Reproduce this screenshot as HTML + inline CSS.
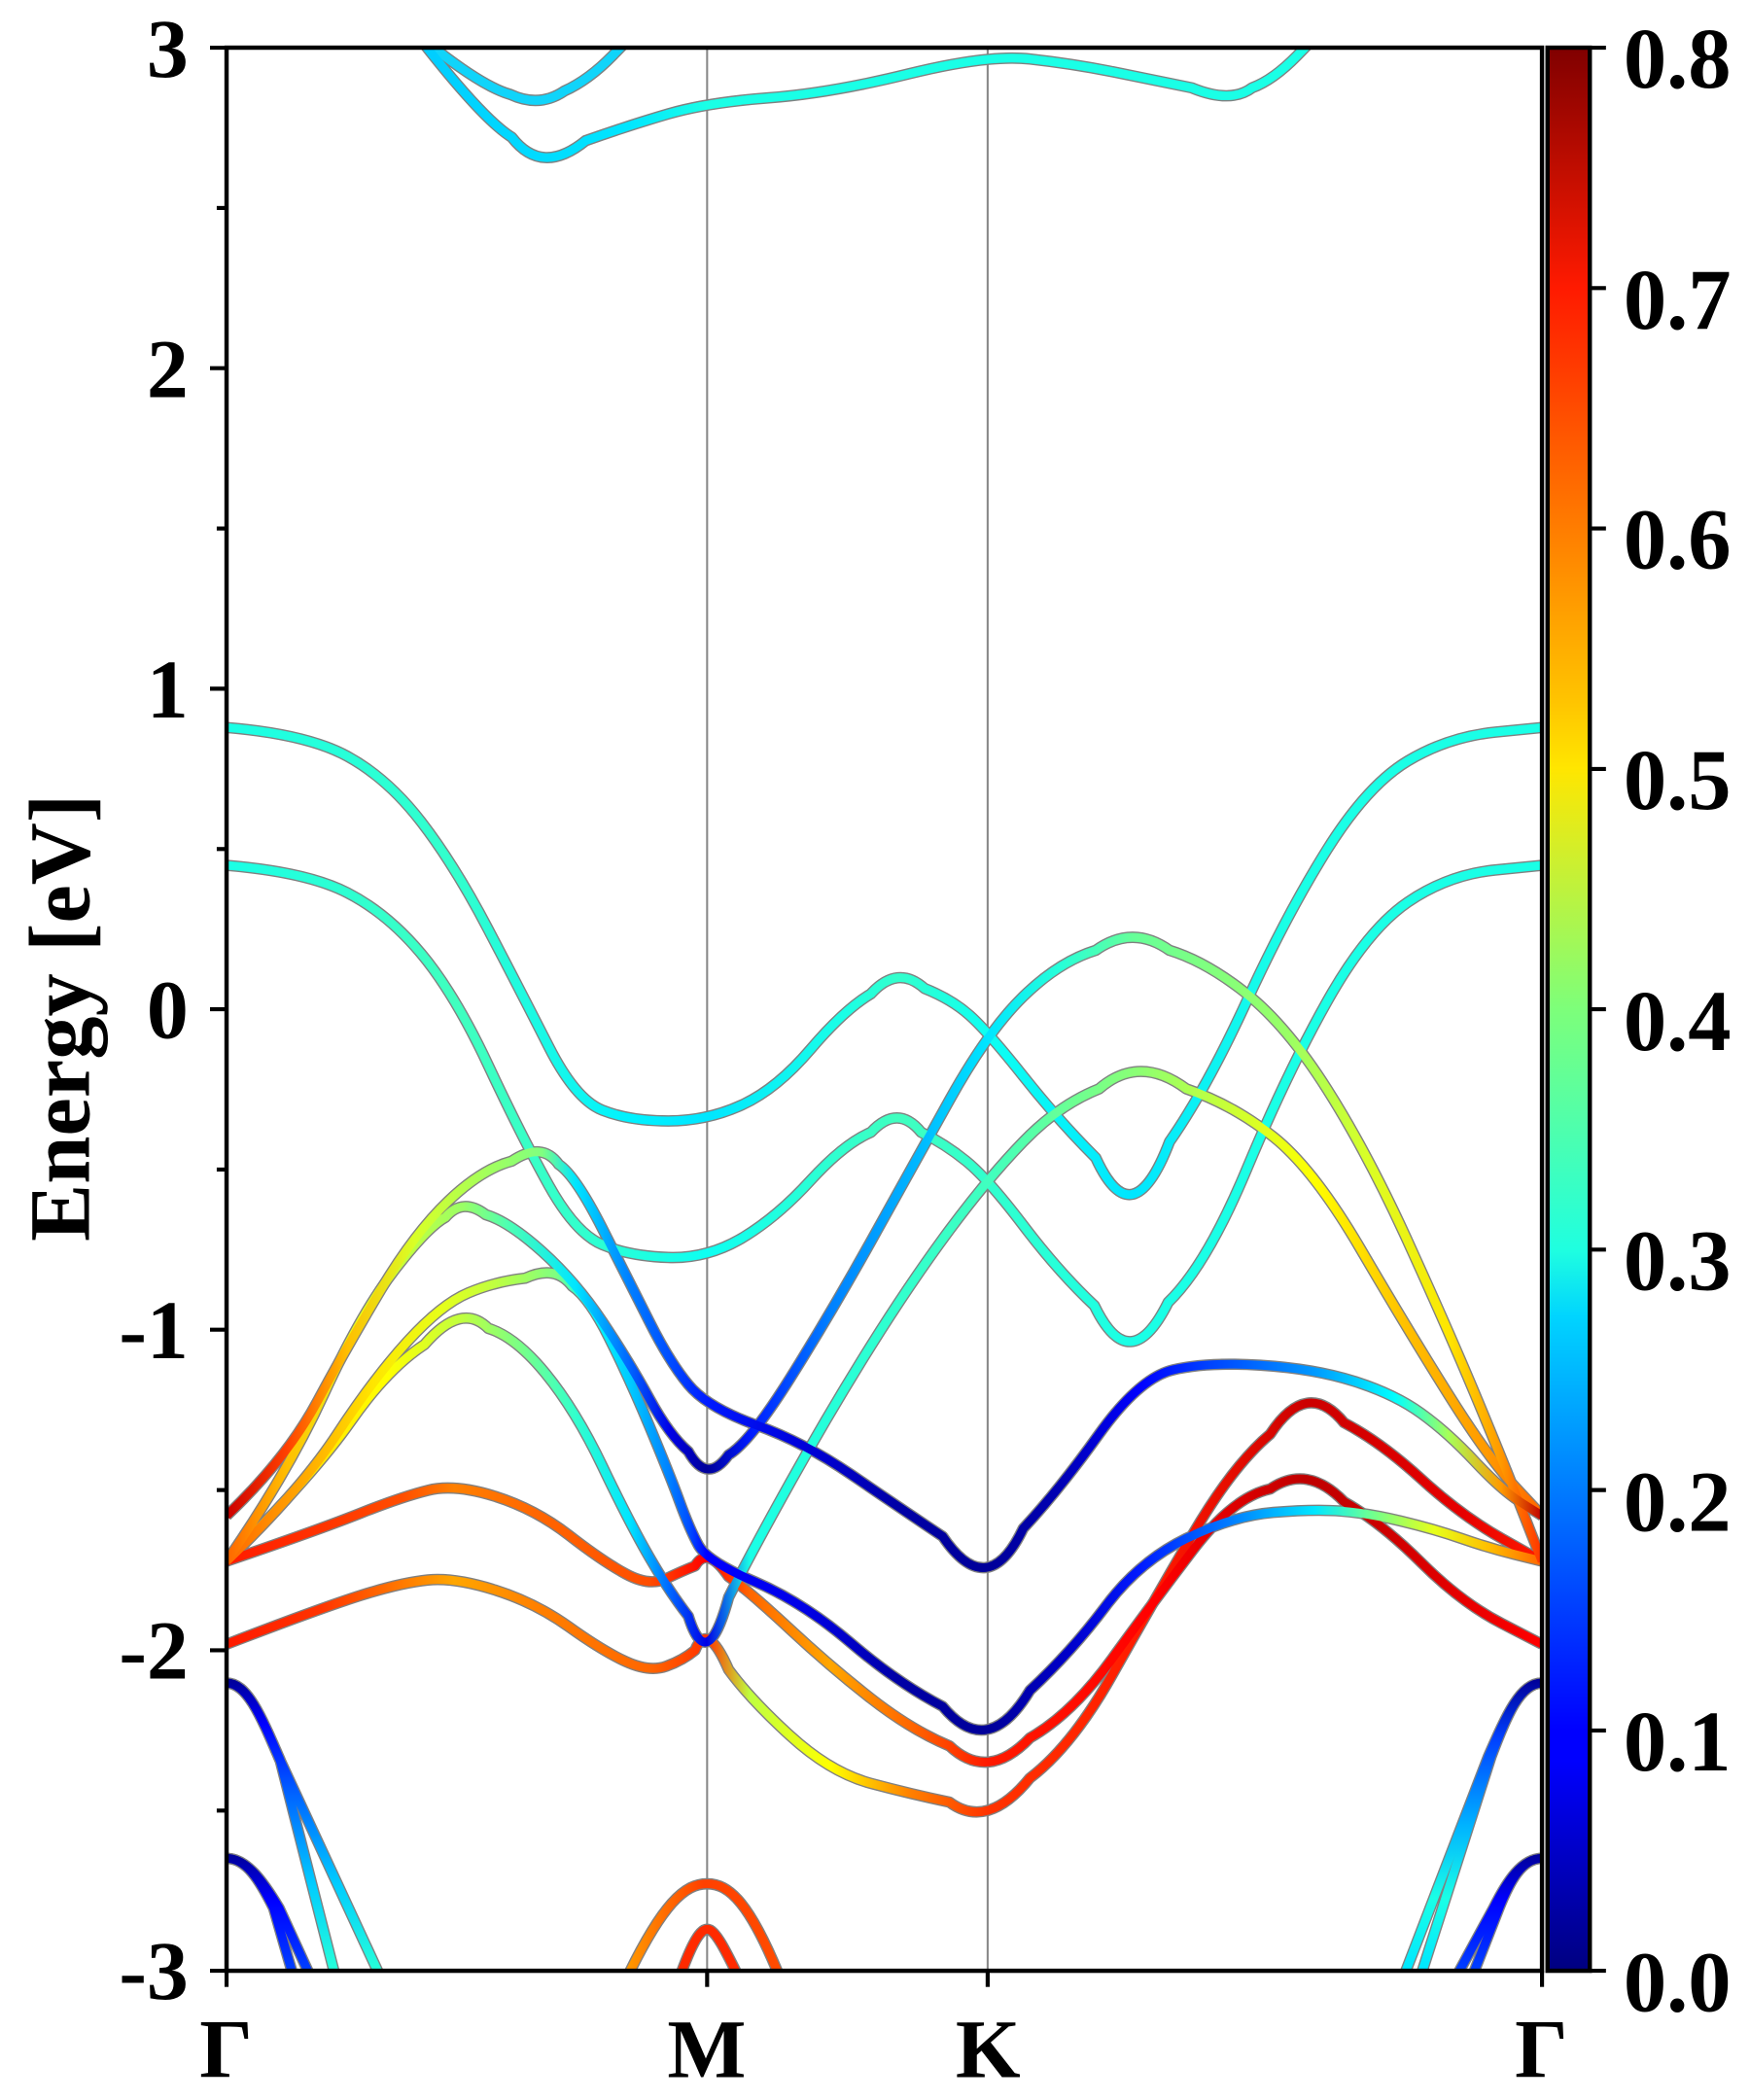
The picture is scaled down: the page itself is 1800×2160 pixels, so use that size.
<!DOCTYPE html>
<html><head><meta charset="utf-8">
<style>html,body{margin:0;padding:0;background:#fff;}svg{display:block;}</style>
</head><body>
<svg xmlns="http://www.w3.org/2000/svg" xmlns:xlink="http://www.w3.org/1999/xlink" width="1800" height="2160" viewBox="0 0 1300 1560">
<defs>
<clipPath id="cp"><rect x="170" y="35" width="980" height="1437"/></clipPath>
<linearGradient id="jet" x1="0" y1="1" x2="0" y2="0">
<stop offset="0" stop-color="#000080"/><stop offset="0.11" stop-color="#0000ff"/><stop offset="0.125" stop-color="#0000ff"/>
<stop offset="0.34" stop-color="#00d4ff"/><stop offset="0.375" stop-color="#1fffe0"/><stop offset="0.5" stop-color="#7dff7a"/>
<stop offset="0.625" stop-color="#ffe600"/><stop offset="0.66" stop-color="#ffc400"/><stop offset="0.875" stop-color="#ff1a00"/><stop offset="1" stop-color="#800000"/>
</linearGradient>
<linearGradient id="gA" gradientUnits="userSpaceOnUse" x1="170" y1="0" x2="1150" y2="0">
<stop offset="0" stop-color="#cc0000"/><stop offset=".046" stop-color="#ff4000"/><stop offset=".092" stop-color="#ffbf00"/><stop offset=".143" stop-color="#d9ff26"/><stop offset=".194" stop-color="#a6ff59"/><stop offset=".24" stop-color="#80ff80"/><stop offset=".265" stop-color="#00e6ff"/><stop offset=".306" stop-color="#0080ff"/><stop offset=".337" stop-color="#004cff"/><stop offset=".365" stop-color="#001aff"/><stop offset=".439" stop-color="#0000d9"/><stop offset=".51" stop-color="#0000a6"/><stop offset=".579" stop-color="#000099"/><stop offset=".633" stop-color="#0000b3"/><stop offset=".694" stop-color="#0000ff"/><stop offset=".745" stop-color="#0040ff"/><stop offset=".827" stop-color="#0099ff"/><stop offset=".888" stop-color="#00ffff"/><stop offset=".929" stop-color="#a6ff59"/><stop offset=".969" stop-color="#ff9900"/><stop offset="1" stop-color="#bf0000"/>
</linearGradient>
<linearGradient id="gB" gradientUnits="userSpaceOnUse" x1="170" y1="0" x2="1150" y2="0">
<stop offset="0" stop-color="#ff6600"/><stop offset=".046" stop-color="#ffbf00"/><stop offset=".102" stop-color="#e6ff1a"/><stop offset=".153" stop-color="#b3ff4d"/><stop offset=".18" stop-color="#99ff66"/><stop offset=".214" stop-color="#4dffb3"/><stop offset=".265" stop-color="#00e6ff"/><stop offset=".306" stop-color="#0066ff"/><stop offset=".337" stop-color="#0000e6"/><stop offset=".365" stop-color="#000099"/><stop offset=".398" stop-color="#001aff"/><stop offset=".459" stop-color="#0080ff"/><stop offset=".52" stop-color="#00b3ff"/><stop offset=".579" stop-color="#00e6ff"/><stop offset=".633" stop-color="#26ffd9"/><stop offset=".689" stop-color="#66ff99"/><stop offset=".745" stop-color="#80ff80"/><stop offset=".806" stop-color="#99ff66"/><stop offset=".867" stop-color="#d9ff26"/><stop offset=".929" stop-color="#ffe600"/><stop offset=".969" stop-color="#ff9900"/><stop offset="1" stop-color="#ff3300"/>
</linearGradient>
<linearGradient id="gC" gradientUnits="userSpaceOnUse" x1="170" y1="0" x2="1150" y2="0">
<stop offset="0" stop-color="#ff6600"/><stop offset=".056" stop-color="#ffa600"/><stop offset=".112" stop-color="#ffe600"/><stop offset=".163" stop-color="#e6ff1a"/><stop offset=".204" stop-color="#bfff40"/><stop offset=".25" stop-color="#80ff80"/><stop offset=".276" stop-color="#00ffff"/><stop offset=".306" stop-color="#00ccff"/><stop offset=".337" stop-color="#0080ff"/><stop offset=".352" stop-color="#004cff"/><stop offset=".365" stop-color="#0000ff"/><stop offset=".439" stop-color="#0000e6"/><stop offset=".51" stop-color="#0000a6"/><stop offset=".579" stop-color="#000099"/><stop offset=".643" stop-color="#0000cc"/><stop offset=".694" stop-color="#001aff"/><stop offset=".765" stop-color="#0080ff"/><stop offset=".827" stop-color="#00e6ff"/><stop offset=".867" stop-color="#66ff99"/><stop offset=".918" stop-color="#e6ff1a"/><stop offset=".959" stop-color="#ffbf00"/><stop offset="1" stop-color="#ff6600"/>
</linearGradient>
<linearGradient id="gD" gradientUnits="userSpaceOnUse" x1="170" y1="0" x2="1150" y2="0">
<stop offset="0" stop-color="#ff8000"/><stop offset=".066" stop-color="#ffe600"/><stop offset=".122" stop-color="#ffff00"/><stop offset=".179" stop-color="#bfff40"/><stop offset=".219" stop-color="#80ff80"/><stop offset=".265" stop-color="#33ffcc"/><stop offset=".306" stop-color="#00e6ff"/><stop offset=".337" stop-color="#0066ff"/><stop offset=".365" stop-color="#0000e6"/><stop offset=".398" stop-color="#1affe6"/><stop offset=".459" stop-color="#26ffd9"/><stop offset=".52" stop-color="#33ffcc"/><stop offset=".579" stop-color="#40ffbf"/><stop offset=".633" stop-color="#66ff99"/><stop offset=".694" stop-color="#8cff73"/><stop offset=".765" stop-color="#ccff33"/><stop offset=".827" stop-color="#ffff00"/><stop offset=".898" stop-color="#ffbf00"/><stop offset=".959" stop-color="#ff9900"/><stop offset="1" stop-color="#ff6600"/>
</linearGradient>
<linearGradient id="gE" gradientUnits="userSpaceOnUse" x1="170" y1="0" x2="1150" y2="0">
<stop offset="0" stop-color="#ff1a00"/><stop offset=".071" stop-color="#ff3300"/><stop offset=".133" stop-color="#ff4d00"/><stop offset=".173" stop-color="#ff8000"/><stop offset=".235" stop-color="#ff6600"/><stop offset=".321" stop-color="#ff4d00"/><stop offset=".365" stop-color="#ff0000"/><stop offset=".398" stop-color="#ff6600"/><stop offset=".459" stop-color="#ffa600"/><stop offset=".52" stop-color="#ff6600"/><stop offset=".579" stop-color="#ff1a00"/><stop offset=".704" stop-color="#ff0000"/><stop offset=".821" stop-color="#bf0000"/><stop offset=".878" stop-color="#cc0000"/><stop offset=".939" stop-color="#e60000"/><stop offset="1" stop-color="#ff0000"/>
</linearGradient>
<linearGradient id="gF" gradientUnits="userSpaceOnUse" x1="170" y1="0" x2="1150" y2="0">
<stop offset="0" stop-color="#ff1a00"/><stop offset=".071" stop-color="#ff3300"/><stop offset=".173" stop-color="#ffa600"/><stop offset=".235" stop-color="#ff8000"/><stop offset=".321" stop-color="#ff6600"/><stop offset=".365" stop-color="#ff3300"/><stop offset=".398" stop-color="#bfff40"/><stop offset=".459" stop-color="#ffff00"/><stop offset=".52" stop-color="#ff8000"/><stop offset=".579" stop-color="#ff3300"/><stop offset=".704" stop-color="#ff1a00"/><stop offset=".821" stop-color="#cc0000"/><stop offset=".939" stop-color="#e60000"/><stop offset="1" stop-color="#ff1a00"/>
</linearGradient>
<linearGradient id="g1" gradientUnits="userSpaceOnUse" x1="170" y1="0" x2="1150" y2="0">
<stop offset="0" stop-color="#1affe6"/><stop offset=".173" stop-color="#33ffcc"/><stop offset=".306" stop-color="#00f2ff"/><stop offset=".365" stop-color="#00e6ff"/><stop offset=".469" stop-color="#1affe6"/><stop offset=".51" stop-color="#33ffcc"/><stop offset=".579" stop-color="#0dfff2"/><stop offset=".689" stop-color="#00e6ff"/><stop offset=".806" stop-color="#1affe6"/><stop offset="1" stop-color="#1affe6"/>
</linearGradient>
<linearGradient id="g2" gradientUnits="userSpaceOnUse" x1="170" y1="0" x2="1150" y2="0">
<stop offset="0" stop-color="#1affe6"/><stop offset=".173" stop-color="#40ffbf"/><stop offset=".265" stop-color="#33ffcc"/><stop offset=".365" stop-color="#0dfff2"/><stop offset=".51" stop-color="#40ffbf"/><stop offset=".689" stop-color="#1affe6"/><stop offset="1" stop-color="#1affe6"/>
</linearGradient>
<linearGradient id="gT" gradientUnits="userSpaceOnUse" x1="170" y1="0" x2="1150" y2="0">
<stop offset=".143" stop-color="#00ccff"/><stop offset=".306" stop-color="#00e6ff"/><stop offset=".365" stop-color="#1affe6"/><stop offset="1" stop-color="#1affe6"/>
</linearGradient>
<linearGradient id="gL1" gradientUnits="userSpaceOnUse" x1="0" y1="1255" x2="0" y2="1472">
<stop offset="0" stop-color="#000099"/><stop offset=".15" stop-color="#0000ff"/><stop offset=".4" stop-color="#0066ff"/><stop offset=".7" stop-color="#00ccff"/><stop offset="1" stop-color="#26ffd9"/>
</linearGradient>
<linearGradient id="gL3" gradientUnits="userSpaceOnUse" x1="0" y1="1385" x2="0" y2="1472">
<stop offset="0" stop-color="#000099"/><stop offset=".4" stop-color="#0000ff"/><stop offset="1" stop-color="#0040ff"/>
</linearGradient>
<linearGradient id="gR1" gradientUnits="userSpaceOnUse" x1="0" y1="1255" x2="0" y2="1472">
<stop offset="0" stop-color="#000099"/><stop offset=".2" stop-color="#0040ff"/><stop offset=".5" stop-color="#00b3ff"/><stop offset=".75" stop-color="#1affe6"/><stop offset="1" stop-color="#00e6ff"/>
</linearGradient>
<linearGradient id="gM" gradientUnits="userSpaceOnUse" x1="460" y1="0" x2="590" y2="0">
<stop offset="0" stop-color="#ffa600"/><stop offset=".5" stop-color="#ff4000"/><stop offset="1" stop-color="#ff4d00"/>
</linearGradient>

<path id="pT1" d="M318,30 Q360,64 381.5,70 Q403,80 421.5,67.5 Q440,59 457.5,41 L475,23"/>
<path id="pT2" d="M310,23 Q360,88 382.5,102 Q405,131 437.5,104.5 Q470,93 499,84.5 Q528,76 574,72.5 Q620,69 678.5,54.5 Q737,40 768.5,43.5 Q800,47 830,53 Q860,59 889,65 Q918,77 934,65 Q950,59 967.5,41 L985,23"/>
<path id="pB1" d="M170,543 Q230,548 260,564.5 Q290,581 315,613.5 Q340,646 365,694 Q390,742 410,781.5 Q430,821 450,829 Q470,837 499,837 Q528,837 554,825 Q580,813 605,783.5 Q630,754 650,742 Q670,720 690,738 Q710,746 723.5,758 Q737,770 763.5,803.5 Q790,837 817.5,864.5 Q845,925 872.5,852.5 Q900,813 930,747.5 Q960,682 990,634 Q1020,586 1050,568 Q1080,550 1115,546.5 L1150,543"/>
<path id="pB2" d="M170,646 Q230,651 260,666.5 Q290,682 315,712 Q340,742 365,795.5 Q390,849 410,885 Q430,921 450,929.5 Q470,938 499,939 Q528,940 554,924.5 Q580,909 605,881.5 Q630,854 650,845.5 Q670,824 687.5,845.5 Q705,854 721,867 Q737,880 763.5,915 Q790,950 816.5,975 Q843,1030 871.5,972.5 Q900,945 930,873 Q960,801 990,747.5 Q1020,694 1050,673.5 Q1080,653 1115,649.5 L1150,646"/>
<path id="pF" d="M170,1228 Q240,1201 270,1191.5 Q300,1182 320,1180 Q340,1178 370,1187.5 Q400,1197 425,1215 Q450,1233 467.5,1241 Q485,1249 497.5,1244.5 Q510,1240 519,1232.5 Q528,1210 544,1247 Q560,1269 590,1296.5 Q620,1324 650,1332 Q680,1340 708.5,1346 Q737,1367 768.5,1328 Q800,1304 830,1250.5 Q860,1197 890,1145.5 Q920,1094 947.5,1071 Q975,1029 1002.5,1062.5 Q1030,1077 1060,1104.5 Q1090,1132 1120,1149 L1150,1166"/>
<path id="pE" d="M170,1166 Q240,1142 270,1130 Q300,1118 320,1113 Q340,1108 370,1117.5 Q400,1127 425,1146.5 Q450,1166 467.5,1175.5 Q485,1185 497.5,1179 Q510,1173 519,1169.5 Q528,1154 544,1177.5 Q560,1189 590,1217 Q620,1245 650,1268.5 Q680,1292 708.5,1304 Q737,1331 768.5,1298 Q800,1280 830,1238.5 Q860,1197 890,1157.5 Q920,1118 947.5,1112 Q975,1093 1002.5,1121.5 Q1030,1137 1060,1167 Q1090,1197 1120,1212.5 L1150,1228"/>
<path id="pD" d="M170,1166 Q235,1101 262.5,1061.5 Q290,1022 317.5,1004 Q345,972 365,992 Q385,998 407.5,1025.5 Q430,1053 450,1095 Q470,1137 485,1163 Q500,1189 514,1207 Q528,1252 544,1193 Q560,1161 590,1107 Q620,1053 650,1005 Q680,957 708.5,918.5 Q737,880 763.5,852.5 Q790,825 820,813 Q850,787 885,813 Q920,825 950,849 Q980,873 1015,933 Q1050,993 1080,1041 Q1110,1089 1130,1110.5 L1150,1132"/>
<path id="pC" d="M170,1166 Q225,1113 252.5,1071 Q280,1029 305,1001.5 Q330,974 350,965.5 Q370,957 392.5,954.5 Q415,944 427.5,960.5 Q440,969 455,999 Q470,1029 485,1065 Q500,1101 507.5,1121.5 Q515,1142 521.5,1154 Q528,1166 564,1181.5 Q600,1197 635,1227 Q670,1257 703.5,1274.5 Q737,1315 768.5,1262.5 Q800,1233 825,1199.5 Q850,1166 885,1149 Q920,1132 950,1129.5 Q980,1127 1000,1128.5 Q1020,1130 1045,1136 Q1070,1142 1090,1149 Q1110,1156 1130,1161 L1150,1166"/>
<path id="pB" d="M170,1166 Q215,1101 242.5,1041 Q270,981 295,948.5 Q320,916 333,909 Q346,894 363,907 Q380,912 405,934.5 Q430,957 450,987 Q470,1017 485,1044.5 Q500,1072 514,1084 Q528,1109 544,1086.5 Q560,1077 590,1029 Q620,981 650,927 Q680,873 708.5,821.5 Q737,770 763.5,744 Q790,718 817.5,709.5 Q845,690 872.5,709.5 Q900,718 930,742 Q960,766 990,813.5 Q1020,861 1050,927 Q1080,993 1100,1041 Q1120,1089 1135,1127.5 L1150,1166"/>
<path id="pA" d="M170,1132 Q215,1089 237.5,1047 Q260,1005 285,963 Q310,921 335,897 Q360,873 382.5,867 Q405,852 417.5,869.5 Q430,878 450,917.5 Q470,957 485,987 Q500,1017 514,1034 Q528,1051 564,1064 Q600,1077 635,1101 Q670,1125 703.5,1147.5 Q737,1197 763.5,1141.5 Q790,1113 820,1071 Q850,1029 875,1023 Q900,1017 940,1019.5 Q980,1022 1010,1031.5 Q1040,1041 1060,1055.5 Q1080,1070 1100,1091.5 Q1120,1113 1135,1122.5 L1150,1132"/>
<path id="pL1" d="M170,1257 C185,1257 195,1280 210,1315 L253,1484"/>
<path id="pL2" d="M170,1257 C185,1257 195,1280 210,1315 L288,1484"/>
<path id="pL3" d="M170,1388 C185,1388 195,1405 205,1425 L222,1484"/>
<path id="pL4" d="M170,1388 C185,1388 197,1405 209,1425 L236,1484"/>
<path id="pM1" d="M465,1484 C495,1420 512,1407 528,1407 C544,1407 560,1420 585,1484"/>
<path id="pM2" d="M505,1484 C515,1455 522,1441 528,1441 C534,1441 541,1455 555,1484"/>
<path id="pR1" d="M1150,1257 C1134,1257 1124,1280 1110,1312 L1044,1484"/>
<path id="pR2" d="M1150,1257 C1134,1257 1124,1280 1112,1312 L1057,1484"/>
<path id="pR3" d="M1150,1388 C1135,1388 1124,1405 1114,1425 L1082,1484"/>
<path id="pR4" d="M1150,1388 C1135,1388 1126,1405 1118,1425 L1095,1484"/>
</defs>

<g transform="matrix(0.99714 0 0 0.99415 -1.2 0.6)">
<line x1="528" y1="35" x2="528" y2="1472" stroke="#888" stroke-width="1.5"/>
<line x1="737" y1="35" x2="737" y2="1472" stroke="#888" stroke-width="1.5"/>
<g clip-path="url(#cp)" fill="none" stroke-linejoin="round" stroke-linecap="butt">
<g stroke="#808080" stroke-width="8.5">
<use href="#pT1" xlink:href="#pT1"/><use href="#pT2" xlink:href="#pT2"/>
<use href="#pB1" xlink:href="#pB1"/><use href="#pB2" xlink:href="#pB2"/>
<use href="#pF" xlink:href="#pF"/><use href="#pE" xlink:href="#pE"/>
<use href="#pD" xlink:href="#pD"/><use href="#pC" xlink:href="#pC"/>
<use href="#pB" xlink:href="#pB"/><use href="#pA" xlink:href="#pA"/>
<use href="#pL1" xlink:href="#pL1"/><use href="#pL2" xlink:href="#pL2"/><use href="#pL3" xlink:href="#pL3"/><use href="#pL4" xlink:href="#pL4"/>
<use href="#pM1" xlink:href="#pM1"/><use href="#pM2" xlink:href="#pM2"/>
<use href="#pR1" xlink:href="#pR1"/><use href="#pR2" xlink:href="#pR2"/><use href="#pR3" xlink:href="#pR3"/><use href="#pR4" xlink:href="#pR4"/>
</g>
<g stroke-width="6.5">
<use href="#pT1" xlink:href="#pT1" stroke="#10d4fa"/>
<use href="#pT2" xlink:href="#pT2" stroke="url(#gT)"/>
<use href="#pB1" xlink:href="#pB1" stroke="url(#g1)"/>
<use href="#pB2" xlink:href="#pB2" stroke="url(#g2)"/>
<use href="#pF" xlink:href="#pF" stroke="url(#gF)"/>
<use href="#pE" xlink:href="#pE" stroke="url(#gE)"/>
<use href="#pD" xlink:href="#pD" stroke="url(#gD)"/>
<use href="#pC" xlink:href="#pC" stroke="url(#gC)"/>
<use href="#pB" xlink:href="#pB" stroke="url(#gB)"/>
<use href="#pA" xlink:href="#pA" stroke="url(#gA)"/>
<use href="#pL1" xlink:href="#pL1" stroke="url(#gL1)"/>
<use href="#pL2" xlink:href="#pL2" stroke="url(#gL1)"/>
<use href="#pL3" xlink:href="#pL3" stroke="url(#gL3)"/>
<use href="#pL4" xlink:href="#pL4" stroke="url(#gL3)"/>
<use href="#pM1" xlink:href="#pM1" stroke="url(#gM)"/>
<use href="#pM2" xlink:href="#pM2" stroke="#ff2a00"/>
<use href="#pR1" xlink:href="#pR1" stroke="url(#gR1)"/>
<use href="#pR2" xlink:href="#pR2" stroke="url(#gR1)"/>
<use href="#pR3" xlink:href="#pR3" stroke="url(#gL3)"/>
<use href="#pR4" xlink:href="#pR4" stroke="url(#gL3)"/>
</g>
</g>
</g>

<rect x="168.3" y="35.4" width="977.2" height="1428.6" fill="none" stroke="#000" stroke-width="3.2"/>
<g stroke="#000" stroke-width="3">
<line x1="156" x2="168" y1="35.4" y2="35.4"/><line x1="156" x2="168" y1="273.5" y2="273.5"/><line x1="156" x2="168" y1="511.6" y2="511.6"/><line x1="156" x2="168" y1="749.7" y2="749.7"/><line x1="156" x2="168" y1="987.8" y2="987.8"/><line x1="156" x2="168" y1="1225.9" y2="1225.9"/><line x1="156" x2="168" y1="1464" y2="1464"/>
<line x1="161" x2="168" y1="154.5" y2="154.5"/><line x1="161" x2="168" y1="392.6" y2="392.6"/><line x1="161" x2="168" y1="630.7" y2="630.7"/><line x1="161" x2="168" y1="868.8" y2="868.8"/><line x1="161" x2="168" y1="1106.9" y2="1106.9"/><line x1="161" x2="168" y1="1345" y2="1345"/>
<line x1="168.3" x2="168.3" y1="1464" y2="1476"/><line x1="525.3" x2="525.3" y1="1464" y2="1476"/><line x1="733.7" x2="733.7" y1="1464" y2="1476"/><line x1="1145.5" x2="1145.5" y1="1464" y2="1476"/>
</g>
<g font-family="Liberation Serif, serif" font-weight="bold" font-size="62" fill="#000" text-anchor="end">
<text x="140" y="57">3</text><text x="140" y="295">2</text><text x="140" y="533">1</text>
<text x="140" y="771">0</text><text x="140" y="1009">-1</text><text x="140" y="1247">-2</text><text x="140" y="1485">-3</text>
</g>
<g font-family="Liberation Serif, serif" font-weight="bold" font-size="62" fill="#000" text-anchor="middle">
<text x="168" y="1543">Γ</text><text x="525" y="1543">M</text><text x="734" y="1543">K</text><text x="1145" y="1543">Γ</text>
</g>
<text transform="translate(66,756) rotate(-90)" font-family="Liberation Serif, serif" font-weight="bold" font-size="64" text-anchor="middle">Energy [eV]</text>
<rect x="1149.6" y="35.4" width="31.4" height="1428.6" fill="url(#jet)" stroke="#000" stroke-width="3.2"/>
<g stroke="#000" stroke-width="3">
<line x1="1181" x2="1193" y1="35.4" y2="35.4"/><line x1="1181" x2="1193" y1="214" y2="214"/><line x1="1181" x2="1193" y1="392.6" y2="392.6"/><line x1="1181" x2="1193" y1="571.2" y2="571.2"/><line x1="1181" x2="1193" y1="749.7" y2="749.7"/><line x1="1181" x2="1193" y1="928.3" y2="928.3"/><line x1="1181" x2="1193" y1="1106.9" y2="1106.9"/><line x1="1181" x2="1193" y1="1285.5" y2="1285.5"/><line x1="1181" x2="1193" y1="1464" y2="1464"/>
</g>
<g font-family="Liberation Serif, serif" font-weight="bold" font-size="64" fill="#000">
<text x="1206" y="65">0.8</text><text x="1206" y="244">0.7</text><text x="1206" y="422">0.6</text>
<text x="1206" y="601">0.5</text><text x="1206" y="780">0.4</text><text x="1206" y="958">0.3</text>
<text x="1206" y="1137">0.2</text><text x="1206" y="1315">0.1</text><text x="1206" y="1494">0.0</text>
</g>
</svg>
</body></html>
